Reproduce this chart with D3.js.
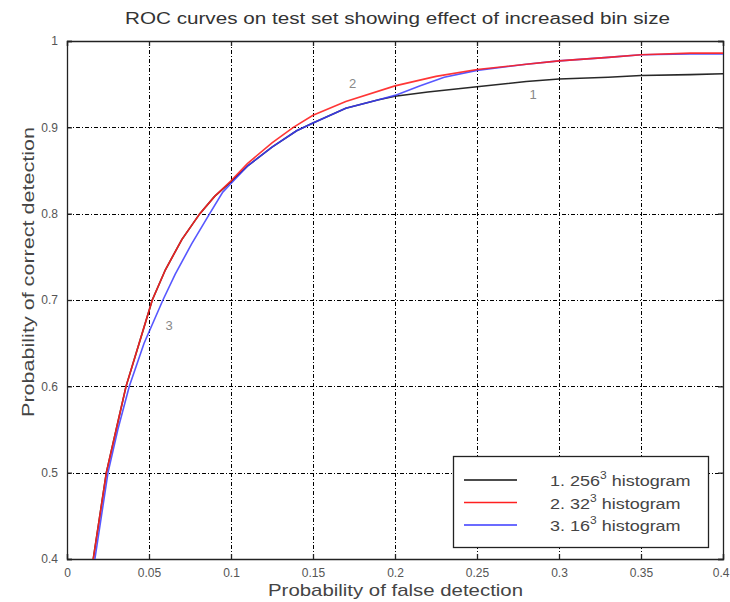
<!DOCTYPE html>
<html>
<head>
<meta charset="utf-8">
<script src="https://cdn.jsdelivr.net/npm/d3@7"></script>
<style>
body{margin:0;background:#fff;}
text{font-family:"Liberation Sans",Arial,sans-serif;}
</style>
</head>
<body>
<svg width="730" height="602"></svg>
<script>
// tick values
var xTicks=[0,0.05,0.1,0.15,0.2,0.25,0.3,0.35,0.4];
var yTicks=[0.4,0.5,0.6,0.7,0.8,0.9,1];

// 1. 256^3 histogram
var fpr1=[0.016,0.020,0.024,0.030,0.036,0.044,0.052,0.060,0.070,0.081,0.090,0.100,0.110,0.125,0.140,0.150,0.170,0.190,0.200,0.220,0.250,0.280,0.300,0.330,0.350,0.380,0.400];
var tpr1=[0.40,0.45,0.50,0.55,0.60,0.65,0.70,0.735,0.77,0.80,0.82,0.837,0.855,0.877,0.896,0.905,0.922,0.932,0.936,0.941,0.947,0.953,0.956,0.958,0.960,0.961,0.962];
// 2. 32^3 histogram
var fpr2=[0.016,0.020,0.024,0.030,0.036,0.044,0.052,0.060,0.070,0.081,0.090,0.100,0.110,0.125,0.138,0.150,0.170,0.200,0.225,0.250,0.280,0.300,0.330,0.350,0.380,0.400];
var tpr2=[0.40,0.45,0.50,0.55,0.60,0.65,0.70,0.735,0.77,0.80,0.82,0.838,0.858,0.882,0.900,0.914,0.930,0.948,0.959,0.967,0.973,0.977,0.981,0.984,0.986,0.986];
// 3. 16^3 histogram
var fpr3=[0.017,0.021,0.025,0.031,0.038,0.047,0.0585,0.066,0.076,0.087,0.095,0.100,0.110,0.125,0.140,0.150,0.170,0.190,0.200,0.215,0.230,0.250,0.280,0.300,0.330,0.350,0.380,0.400];
var tpr3=[0.40,0.45,0.50,0.55,0.60,0.65,0.70,0.73,0.765,0.80,0.825,0.835,0.855,0.877,0.896,0.905,0.922,0.932,0.937,0.948,0.958,0.966,0.973,0.977,0.981,0.984,0.985,0.985];

var names=["1. 256","2. 32","3. 16"];
var colors=["#111","#ff2020","#3a3aff"];
var curveLabels=["1","2","3"];
var labelPos=[[0.282,0.933],[0.172,0.946],[0.060,0.665]];

var svg=d3.select("svg");
var L=67,R=723,T=41,B=559;
var x=d3.scaleLinear().domain([0,0.4]).range([L,R]);
var y=d3.scaleLinear().domain([0.4,1]).range([B,T]);

svg.append("text").attr("x",125).attr("y",24)
  .attr("font-size",16).attr("fill","#333").attr("textLength",545).attr("lengthAdjust","spacingAndGlyphs")
  .text("ROC curves on test set showing effect of increased bin size");

// grid
var grid=svg.append("g").attr("stroke","#000").attr("stroke-width",1).attr("stroke-dasharray","4,2,1,2");
grid.selectAll(".gx").data(xTicks.slice(1,-1)).enter().append("line")
  .attr("x1",function(d){return Math.round(x(d))+0.5;}).attr("x2",function(d){return Math.round(x(d))+0.5;})
  .attr("y1",T).attr("y2",B);
grid.selectAll(".gy").data(yTicks.slice(1,-1)).enter().append("line")
  .attr("y1",function(d){return Math.round(y(d))+0.5;}).attr("y2",function(d){return Math.round(y(d))+0.5;})
  .attr("x1",L).attr("x2",R);

// axes
var xb=svg.append("g").attr("transform","translate(0,"+B+")")
  .call(d3.axisBottom(x).tickValues(xTicks).tickSize(-5).tickPadding(9).tickFormat(d3.format("")));
var xt=svg.append("g").attr("transform","translate(0,"+T+")")
  .call(d3.axisTop(x).tickValues(xTicks).tickSize(-5).tickFormat(""));
var yl=svg.append("g").attr("transform","translate("+L+",0)")
  .call(d3.axisLeft(y).tickValues(yTicks).tickSize(-5).tickPadding(9).tickFormat(d3.format("")));
var yr=svg.append("g").attr("transform","translate("+R+",0)")
  .call(d3.axisRight(y).tickValues(yTicks).tickSize(-5).tickFormat(""));
[xb,xt,yl,yr].forEach(function(g){
  g.select(".domain").attr("stroke","#222").attr("stroke-width",1.3);
  g.selectAll(".tick line").attr("stroke","#222").attr("stroke-width",1.3);
  g.selectAll("text").attr("font-size",12).attr("fill","#555").attr("font-family","Liberation Sans,Arial,sans-serif");
});
// last x label sits against the right edge
xb.selectAll(".tick text").filter(function(d){return d===0.4;}).attr("text-anchor","end").attr("dx",6);

// curves
var series=[[fpr1,tpr1],[fpr2,tpr2],[fpr3,tpr3]];
var line=d3.line().x(function(d){return x(d[0]);}).y(function(d){return y(d[1]);});
var plot=svg.append("g");
[0,2,1].forEach(function(i){
  var pts=d3.zip(series[i][0],series[i][1]);
  plot.append("path").datum(pts).attr("d",line).attr("fill","none")
    .attr("stroke",colors[i]).attr("stroke-width",1.6).attr("stroke-opacity",i==2?0.85:0.9);
});
svg.selectAll(".clab").data(curveLabels).enter().append("text")
  .attr("x",function(d,i){return x(labelPos[i][0]);}).attr("y",function(d,i){return y(labelPos[i][1]);})
  .attr("font-size",13).attr("fill","#888").text(function(d){return d;});

// axis labels
svg.append("text").attr("x",268).attr("y",596)
  .attr("font-size",17).attr("fill","#444").attr("textLength",255).attr("lengthAdjust","spacingAndGlyphs")
  .text("Probability of false detection");
svg.append("text").attr("transform","translate(34,"+(272+145)+") rotate(-90)")
  .attr("font-size",17).attr("fill","#444").attr("textLength",290).attr("lengthAdjust","spacingAndGlyphs")
  .text("Probability of correct detection");

// legend
var lg=svg.append("g");
lg.append("rect").attr("x",453.5).attr("y",456.5).attr("width",255).attr("height",91)
  .attr("fill","#fff").attr("stroke","#222").attr("stroke-width",1.3);
names.forEach(function(n,i){
  var yy=480+i*22.5;
  lg.append("line").attr("x1",464).attr("x2",517).attr("y1",yy).attr("y2",yy)
    .attr("stroke",colors[i]).attr("stroke-width",1.6);
  var g=lg.append("g").attr("transform","translate(550,"+(yy+6)+") scale(1.2,1)");
  var t=g.append("text").attr("font-size",15).attr("fill","#444");
  t.append("tspan").text(n);
  t.append("tspan").attr("dy",-7).attr("font-size",10).text("3");
  t.append("tspan").attr("dy",7).text(" histogram");
});
</script>
</body>
</html>
